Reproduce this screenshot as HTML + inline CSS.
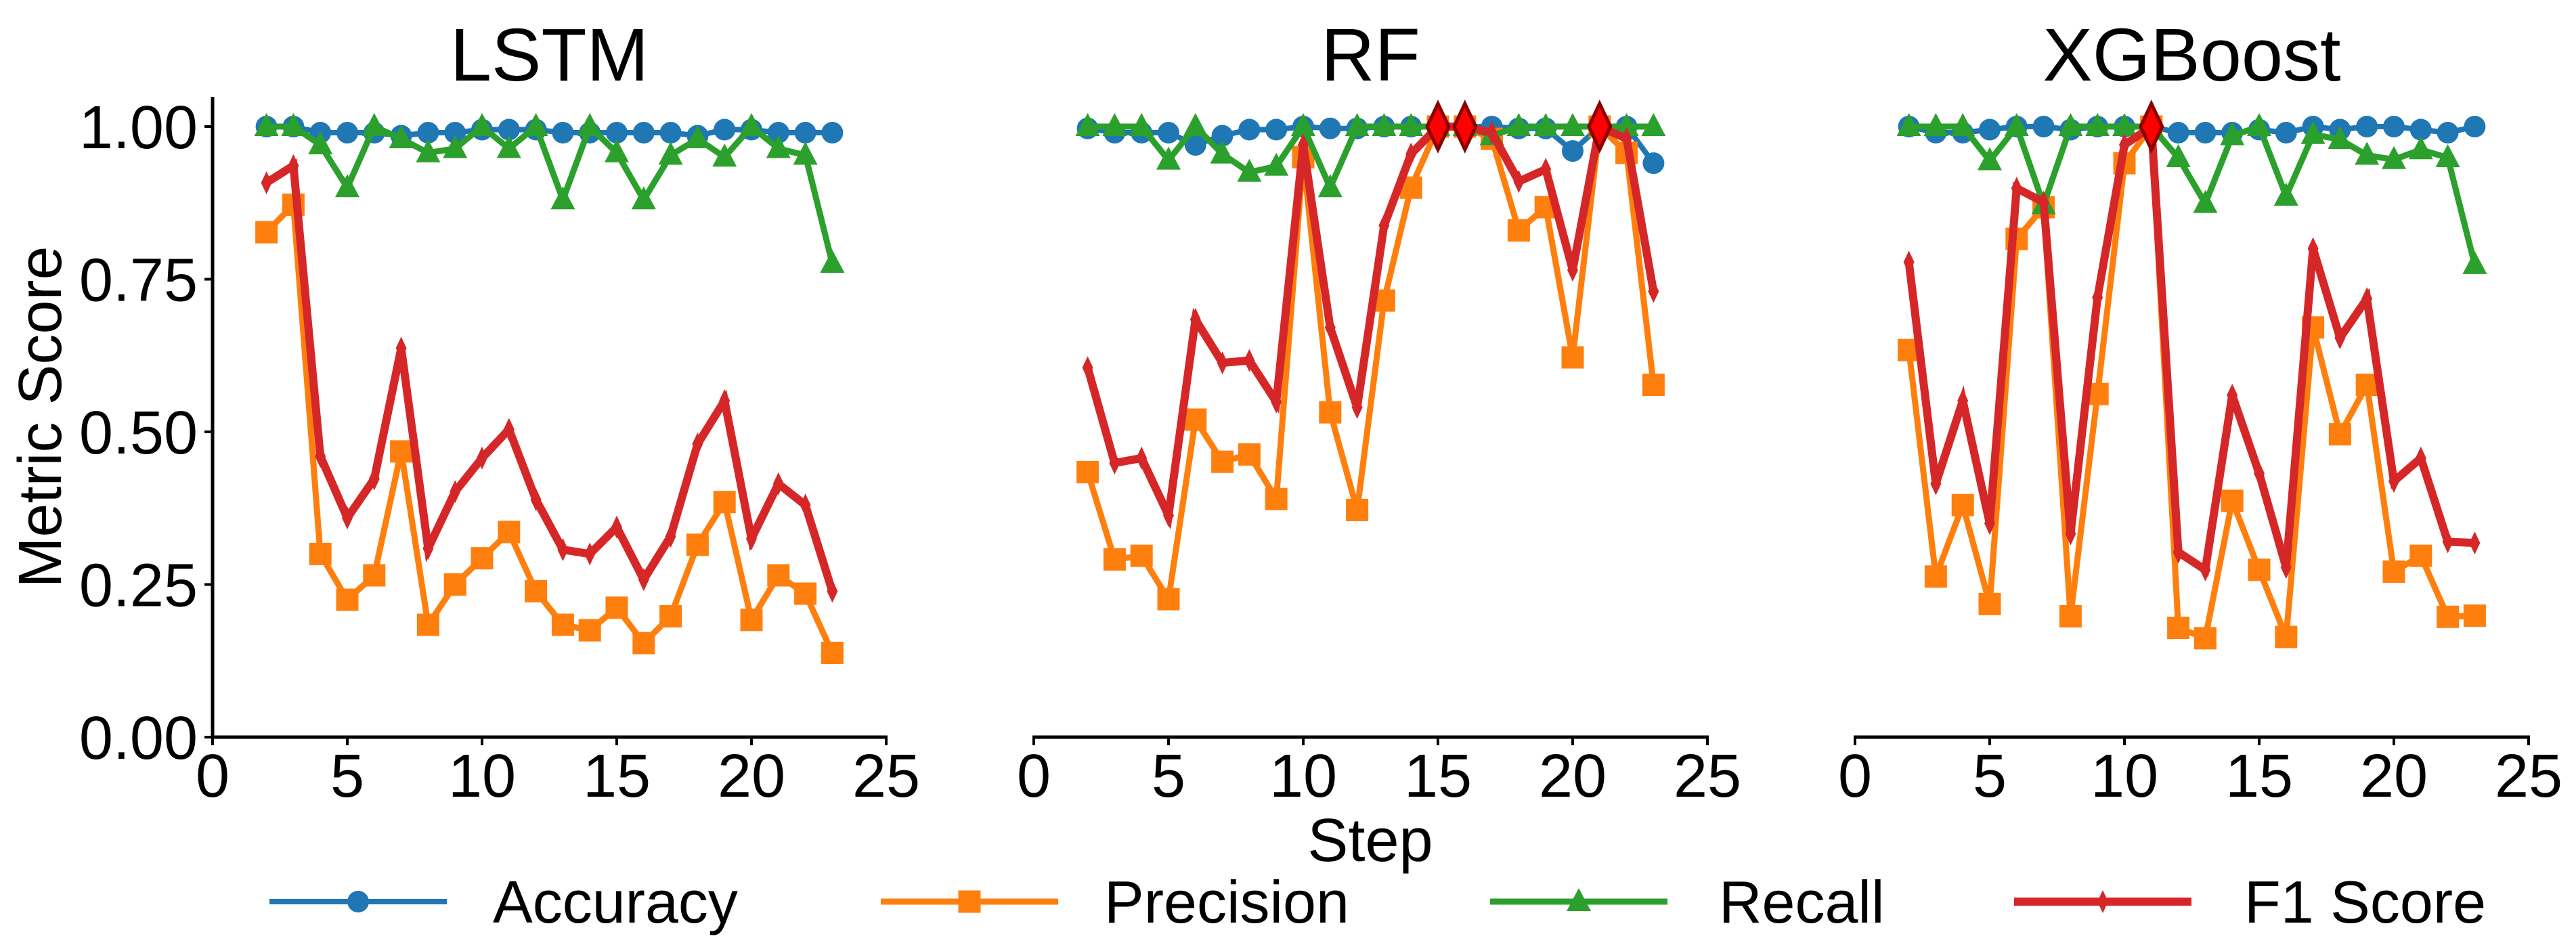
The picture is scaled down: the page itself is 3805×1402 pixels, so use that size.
<!DOCTYPE html>
<html><head><meta charset="utf-8"><style>
html,body{margin:0;padding:0;background:#fff;}
svg{display:block;font-family:"Liberation Sans","DejaVu Sans",sans-serif;}
</style></head><body>
<svg id="chart" width="3805" height="1402" viewBox="0 0 3805 1402" xmlns="http://www.w3.org/2000/svg"></svg>
<script>
const steps = [2,3,4,5,6,7,8,9,10,11,12,13,14,15,16,17,18,19,20,21,22,23];
const models = ["LSTM","RF","XGBoost"];
const xTicks = [0,5,10,15,20,25];
const yTicks = [0,0.25,0.5,0.75,1.0];
const yTickLabels = ["0.00","0.25","0.50","0.75","1.00"];
const metricNames = ["Accuracy","Precision","Recall","F1 Score"];

const lstmAccuracy = [1.0,1.0,0.99,0.99,0.99,0.985,0.99,0.99,0.995,0.995,0.995,0.99,0.99,0.99,0.99,0.99,0.985,0.995,0.995,0.99,0.99,0.99];
const lstmPrecision = [0.827,0.872,0.30,0.225,0.265,0.468,0.184,0.25,0.293,0.336,0.239,0.184,0.175,0.212,0.154,0.198,0.315,0.385,0.192,0.265,0.235,0.138];
const lstmRecall = [1.0,1.0,0.97,0.9,1.0,0.98,0.957,0.964,1.0,0.964,1.0,0.88,1.0,0.957,0.88,0.953,0.98,0.95,1.0,0.964,0.953,0.776];
const lstmF1 = [0.908,0.936,0.46,0.359,0.423,0.637,0.309,0.402,0.457,0.504,0.389,0.307,0.30,0.344,0.258,0.329,0.48,0.551,0.325,0.415,0.38,0.239];

const rfAccuracy = [0.997,0.99,0.99,0.99,0.97,0.985,0.995,0.995,1.0,0.997,0.997,1.0,1.0,1.0,1.0,1.0,0.997,0.997,0.96,1.0,1.0,0.94];
const rfPrecision = [0.434,0.291,0.297,0.226,0.52,0.451,0.463,0.39,0.95,0.532,0.372,0.715,0.90,1.0,1.0,0.98,0.83,0.868,0.622,1.0,0.957,0.577];
const rfRecall = [1.0,1.0,1.0,0.945,1.0,0.955,0.925,0.935,1.0,0.9,1.0,1.0,1.0,1.0,1.0,0.985,1.0,1.0,1.0,1.0,1.0,1.0];
const rfF1 = [0.605,0.449,0.457,0.363,0.684,0.613,0.617,0.549,0.97,0.671,0.54,0.838,0.955,1.0,1.0,0.99,0.91,0.93,0.765,1.0,0.98,0.73];

const xgbAccuracy = [1.0,0.99,0.99,0.995,1.0,1.0,0.995,1.0,1.0,1.0,0.99,0.99,0.99,0.995,0.99,1.0,0.995,1.0,1.0,0.995,0.99,1.0];
const xgbPrecision = [0.634,0.263,0.38,0.218,0.816,0.868,0.198,0.562,0.94,1.0,0.179,0.162,0.387,0.274,0.164,0.671,0.496,0.577,0.271,0.297,0.197,0.199];
const xgbRecall = [1.0,1.0,1.0,0.944,1.0,0.872,1.0,1.0,1.0,1.0,0.949,0.874,0.985,1.0,0.886,0.987,0.979,0.953,0.946,0.962,0.949,0.774];
const xgbF1 = [0.778,0.415,0.551,0.35,0.899,0.876,0.333,0.72,0.97,1.0,0.303,0.274,0.56,0.432,0.278,0.8,0.654,0.718,0.419,0.457,0.32,0.318];

const modelData = [
  [lstmAccuracy,lstmPrecision,lstmRecall,lstmF1],
  [rfAccuracy,rfPrecision,rfRecall,rfF1],
  [xgbAccuracy,xgbPrecision,xgbRecall,xgbF1]
];

const NS = "http://www.w3.org/2000/svg";
const svg = document.getElementById("chart");
const colors = ["#1f77b4","#ff7f0e","#2ca02c","#d62728"];
const widths = [8,9,9,12];
const panelLeft = [314,1527,2740];
const panelW = 995;
const yZero = 1089, yOne = 187, yTop = 143;
const xMax = 25;
function sx(p,v){return panelLeft[p] + v/xMax*panelW;}
function sy(v){return yZero - v*(yZero-yOne);}
function el(tag,attrs,parent){const e=document.createElementNS(NS,tag);for(const k in attrs)e.setAttribute(k,attrs[k]);(parent||svg).appendChild(e);return e;}

function marker(kind,x,y,color,g){
  let m;
  if(kind===0){m=el("circle",{cx:x,cy:y,r:16,fill:color},g);}
  else if(kind===1){m=el("rect",{x:x-16.5,y:y-16.5,width:33,height:33,fill:color},g);}
  else if(kind===2){m=el("polygon",{points:`${x},${y-20} ${x-18},${y+14} ${x+18},${y+14}`,fill:color},g);}
  else {m=el("polygon",{points:`${x},${y-17} ${x-8},${y} ${x},${y+17} ${x+8},${y}`,fill:color},g);}
  return m;
}

for(let p=0;p<3;p++){
  const g=el("g",{});
  
  
  const t=el("text",{x:panelLeft[p]+panelW/2,y:119,"font-size":110,"text-anchor":"middle",fill:"#000"},g);
  t.textContent=models[p];
  
  
  // spines
  const xa=el("line",{x1:panelLeft[p]-2,y1:yZero,x2:panelLeft[p]+panelW+2,y2:yZero,stroke:"#000","stroke-width":5},g);
  
  
  if(p===0){
    const ya=el("line",{x1:panelLeft[p],y1:yTop,x2:panelLeft[p],y2:yZero+2,stroke:"#000","stroke-width":5},g);
    
    
    for(let i=0;i<yTicks.length;i++){
      const yy=sy(yTicks[i]);
      el("line",{x1:panelLeft[p]-12,y1:yy,x2:panelLeft[p],y2:yy,stroke:"#000","stroke-width":4},g);
      const tl=el("text",{x:292,y:yy+32,"font-size":90,"text-anchor":"end",fill:"#000"},g);
      tl.textContent=yTickLabels[i];
      
      
    }
  }
  for(let i=0;i<xTicks.length;i++){
    const xx=sx(p,xTicks[i]);
    el("line",{x1:xx,y1:yZero,x2:xx,y2:yZero+12,stroke:"#000","stroke-width":4},g);
    const tl=el("text",{x:xx,y:1177,"font-size":90,"text-anchor":"middle",fill:"#000"},g);
    tl.textContent=String(xTicks[i]);
    
    
  }
  for(let m=0;m<4;m++){
    const vals=modelData[p][m];
    const pts=steps.map((s,i)=>sx(p,s)+","+sy(vals[i])).join(" ");
    const line=el("polyline",{points:pts,fill:"none",stroke:colors[m],"stroke-width":widths[m],"stroke-linejoin":"miter"},g);
    
    
    steps.forEach((s,i)=>{
      const mk=marker(m,sx(p,s),sy(vals[i]),colors[m],g);
      
      
    });
  }
  // highlight perfect F1
  const f1=modelData[p][3];
  steps.forEach((s,i)=>{
    if(f1[i]>=0.999){
      const x=sx(p,s),y=sy(f1[i]);
      const h=el("polygon",{points:`${x},${y-34} ${x-16},${y} ${x},${y+34} ${x+16},${y}`,fill:"#ff0000",stroke:"#8b0000","stroke-width":5},g);
      
      
    }
  });
}

const yl=el("text",{x:0,y:0,"font-size":90,"text-anchor":"middle",fill:"#000",transform:"translate(90,616) rotate(-90)"});
yl.textContent="Metric Score";


const xl=el("text",{x:2024,y:1272,"font-size":90,"text-anchor":"middle",fill:"#000"});
xl.textContent="Step";



const legX=[398,1301,2201,2975];
const legTextX=[728,1631,2539,3315];
for(let m=0;m<4;m++){
  const g=el("g",{});
  
  
  el("line",{x1:legX[m],y1:1332,x2:legX[m]+262,y2:1332,stroke:colors[m],"stroke-width":widths[m]},g);
  marker(m,legX[m]+131,1332,colors[m],g);
  const t=el("text",{x:legTextX[m],y:1363,"font-size":88,fill:"#000"},g);
  t.textContent=metricNames[m];
}
</script>
</body></html>
